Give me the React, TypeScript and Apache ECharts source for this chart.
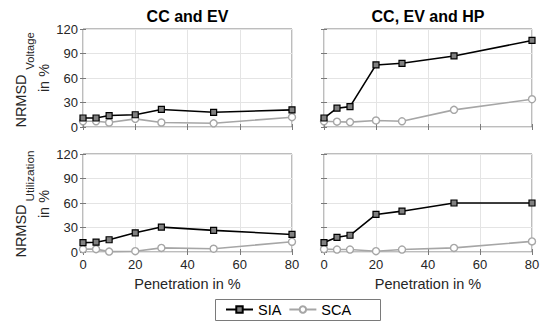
import React, { useEffect, useRef } from "react";
import * as echarts from "echarts";

const penetration = [0, 5, 10, 20, 30, 50, 80];
const voltEvSIA = [11, 11, 14, 15, 21.5, 18, 21];
const voltEvSCA = [7, 7, 5.5, 10, 5.5, 4.5, 12];
const voltHpSIA = [11, 23, 25, 76, 78, 87, 106];
const voltHpSCA = [7, 6.5, 6, 8, 7, 21, 34];
const utilEvSIA = [11.5, 12, 15, 23.5, 30.5, 26.5, 21.5];
const utilEvSCA = [3.5, 3.5, 0.5, 1, 5, 4, 12.5];
const utilHpSIA = [11.5, 18, 20.5, 46, 50, 60, 60];
const utilHpSCA = [3.5, 3, 3, 1, 3, 5, 13];

const titles = ["CC and EV", "CC, EV and HP"];
const xTicks = { min: 0, max: 80, interval: 20 };
const yTicks = { min: 0, max: 120, interval: 30 };

const FONT = "'Liberation Sans', Arial, sans-serif";
const FRAME = "#7a7a7a";

export default function App() {
  const ref = useRef<HTMLDivElement>(null);
  useEffect(() => {
    if (!ref.current) return;
    const chart = echarts.init(ref.current, undefined, { renderer: "svg" });
    const grids = [
      { left: 83, top: 29, width: 209, height: 98 },
      { left: 324, top: 29, width: 208, height: 98 },
      { left: 83, top: 154, width: 209, height: 98 },
      { left: 324, top: 154, width: 208, height: 98 },
    ];
    const panels = [
      [voltEvSIA, voltEvSCA],
      [voltHpSIA, voltHpSCA],
      [utilEvSIA, utilEvSCA],
      [utilHpSIA, utilHpSCA],
    ];
    const xAxes: any[] = [];
    const yAxes: any[] = [];
    grids.forEach((_, i) => {
      const bottomRow = i >= 2;
      const leftCol = i % 2 === 0;
      xAxes.push({
        type: "value",
        gridIndex: i,
        ...xTicks,
        position: "bottom",
        axisLine: { show: false },
        axisTick: { show: true, inside: true, length: 3, lineStyle: { color: FRAME } },
        splitLine: { show: true, lineStyle: { color: "#e4e4e4", width: 1 } },
        axisLabel: {
          show: bottomRow,
          fontFamily: FONT,
          fontSize: 13,
          color: "#262626",
          margin: 6,
        },
        name: bottomRow ? "Penetration in %" : "",
        nameLocation: "middle",
        nameGap: 24,
        nameTextStyle: { fontFamily: FONT, fontSize: 14.5, color: "#262626" },
      });
      xAxes.push({
        type: "value",
        gridIndex: i,
        ...xTicks,
        position: "top",
        axisLine: { show: false },
        axisTick: { show: true, inside: true, length: 3, lineStyle: { color: FRAME } },
        splitLine: { show: false },
        axisLabel: { show: false },
      });
      yAxes.push({
        type: "value",
        gridIndex: i,
        ...yTicks,
        position: "left",
        axisLine: { show: false },
        axisTick: { show: true, inside: true, length: 3, lineStyle: { color: FRAME } },
        splitLine: { show: true, lineStyle: { color: "#e4e4e4", width: 1 } },
        axisLabel: {
          show: leftCol,
          fontFamily: FONT,
          fontSize: 13,
          color: "#262626",
          margin: 5,
        },
      });
      yAxes.push({
        type: "value",
        gridIndex: i,
        ...yTicks,
        position: "right",
        axisLine: { show: false },
        axisTick: { show: true, inside: true, length: 3, lineStyle: { color: FRAME } },
        splitLine: { show: false },
        axisLabel: { show: false },
      });
    });

    const series: any[] = [];
    panels.forEach((p, i) => {
      series.push({
        name: "SIA",
        type: "line",
        xAxisIndex: i * 2,
        yAxisIndex: i * 2,
        data: penetration.map((x, k) => [x, p[0][k]]),
        symbol: "rect",
        symbolSize: 6,
        showAllSymbol: true,
        clip: false,
        lineStyle: { color: "#000", width: 1.6 },
        itemStyle: { color: "#808080", borderColor: "#000", borderWidth: 1.2 },
        z: 3,
      });
      series.push({
        name: "SCA",
        type: "line",
        xAxisIndex: i * 2,
        yAxisIndex: i * 2,
        data: penetration.map((x, k) => [x, p[1][k]]),
        symbol: "circle",
        symbolSize: 7,
        showAllSymbol: true,
        clip: false,
        lineStyle: { color: "#a6a6a6", width: 1.6 },
        itemStyle: { color: "#ffffff", borderColor: "#a6a6a6", borderWidth: 1.4 },
        z: 2,
      });
    });

    const yTitle = (main: string, sub: string, cy: number, subCy: number, subSize: number, inCy: number) => [
      {
        type: "text",
        x: 20.5,
        y: cy,
        rotation: Math.PI / 2,
        style: { text: main, fontFamily: FONT, fontSize: 14.5, fill: "#262626", align: "center", verticalAlign: "middle" },
      },
      {
        type: "text",
        x: 30,
        y: subCy,
        rotation: Math.PI / 2,
        style: { text: sub, fontFamily: FONT, fontSize: subSize, fill: "#262626", align: "center", verticalAlign: "middle" },
      },
      {
        type: "text",
        x: 44,
        y: inCy,
        rotation: Math.PI / 2,
        style: { text: "in %", fontFamily: FONT, fontSize: 14.5, fill: "#262626", align: "center", verticalAlign: "middle" },
      },
    ];

    chart.setOption({
      animation: false,
      backgroundColor: "#ffffff",
      grid: grids.map((g) => ({
        ...g,
        show: true,
        borderColor: FRAME,
        borderWidth: 1,
        backgroundColor: "transparent",
        containLabel: false,
      })),
      xAxis: xAxes,
      yAxis: yAxes,
      series,
      legend: {
        data: ["SIA", "SCA"],
        left: 225,
        top: 302,
        padding: 0,
        itemWidth: 27,
        itemHeight: 8,
        itemGap: 7,
        borderWidth: 0,
        textStyle: { fontFamily: FONT, fontSize: 14.5, color: "#000" },
      },
      graphic: [
        {
          type: "rect",
          shape: { x: 215.5, y: 299.5, width: 165, height: 21 },
          style: { fill: "#fff", stroke: FRAME, lineWidth: 1 },
          z: -1,
        },
        {
          type: "text",
          x: 187.5,
          y: 16,
          style: { text: titles[0], fontFamily: FONT, fontSize: 16, fontWeight: "bold", fill: "#000", align: "center", verticalAlign: "middle" },
        },
        {
          type: "text",
          x: 428,
          y: 16,
          style: { text: titles[1], fontFamily: FONT, fontSize: 16, fontWeight: "bold", fill: "#000", align: "center", verticalAlign: "middle" },
        },
        ...yTitle("NRMSD", "Voltage", 101, 51, 11.2, 78),
        ...yTitle("NRMSD", "Utilization", 231, 176, 11.8, 204),
      ],
    });
    return () => chart.dispose();
  }, []);
  return (
    <div
      ref={ref}
      style={{ position: "fixed", left: 0, top: 0, width: 550, height: 333, background: "#fff" }}
    />
  );
}
